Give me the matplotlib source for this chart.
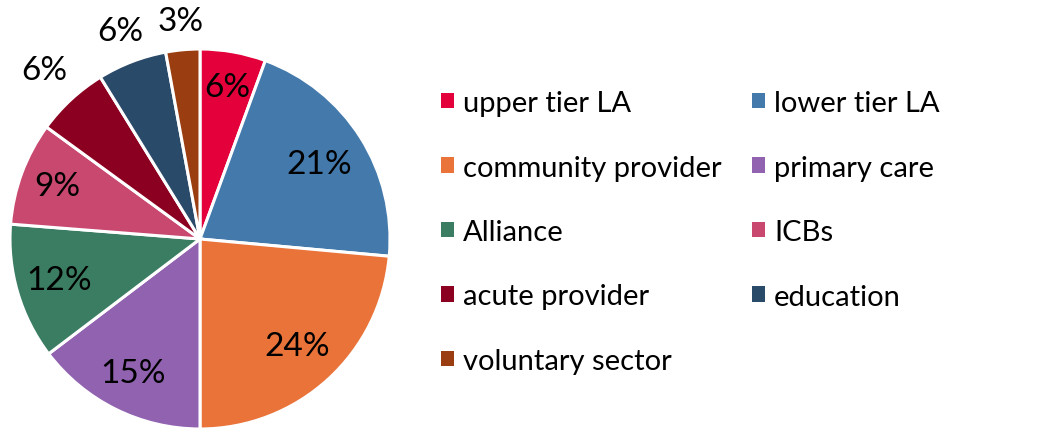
import matplotlib
matplotlib.use("Agg")
import matplotlib.pyplot as plt
from matplotlib.patches import Patch
import numpy as np

categories = ["upper tier LA", "lower tier LA", "community provider", "primary care",
              "Alliance", "ICBs", "acute provider", "education", "voluntary sector"]
values = [5.6, 20.9, 23.6, 14.7, 11.6, 8.8, 6.2, 5.9, 2.9]
colors = ["#E4003A", "#4379AB", "#E97339", "#9062B0", "#3B7D63",
          "#C8486F", "#8B0020", "#2A4A69", "#9A3E12"]
label_dist = [0.81, 0.74, 0.76, 0.79, 0.77, 0.80, 1.21, 1.17, 1.15]

plt.rcParams['font.family'] = ['Lato', 'DejaVu Sans']

fig = plt.figure(figsize=(10.51, 4.31), dpi=100)
ax = fig.add_axes([10/1051, 1/431, 380/1051, 380/431])
wedges, texts, autotexts = ax.pie(values, colors=colors, startangle=90, counterclock=False,
                                  autopct='%.0f%%', pctdistance=0.75,
                                  wedgeprops=dict(edgecolor='white', linewidth=2.2),
                                  textprops=dict(fontsize=24, color='black'))
for w, t, d in zip(wedges, autotexts, label_dist):
    ang = np.deg2rad((w.theta1 + w.theta2) / 2)
    t.set_position((d * np.cos(ang), d * np.sin(ang)))
    t.set_ha('center'); t.set_va('center')
ax.set_xlim(-1, 1)
ax.set_ylim(-1, 1)
ax.set_aspect('equal')

order = [0, 2, 4, 6, 8, 1, 3, 5, 7]
handles = [Patch(facecolor=colors[i], edgecolor='none') for i in order]
labels = [categories[i] for i in order]
fig.legend(handles, labels, ncol=2, loc='upper left', bbox_to_anchor=(441/1051, 1 - 91/431),
           frameon=False, fontsize=21, handlelength=0.45, handleheight=0.45,
           handletextpad=0.3, columnspacing=1.05, labelspacing=1.32, borderpad=0,
           borderaxespad=0)

fig.savefig("out.png", dpi=100)
